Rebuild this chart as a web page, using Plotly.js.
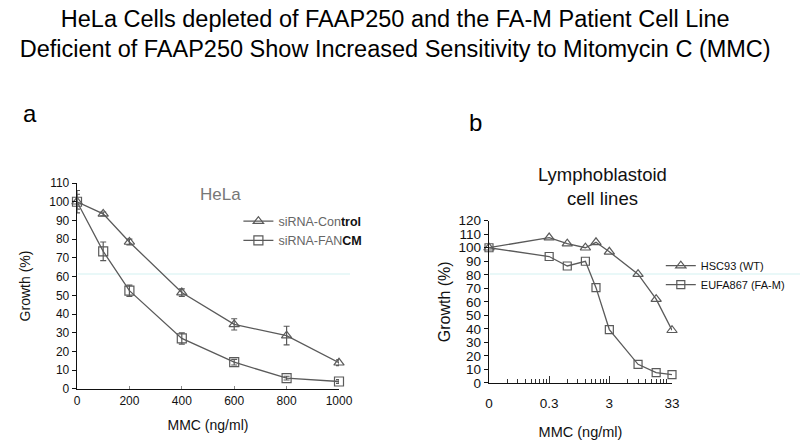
<!DOCTYPE html>
<html>
<head>
<meta charset="utf-8">
<script src="https://cdn.plot.ly/plotly-3.0.1.min.js"></script>
<style>html,body{margin:0;padding:0;background:#fff;}#chart{width:800px;height:447px;}</style>
</head>
<body>
<div id="chart"></div>
<script>
// ---- Panel a: HeLa ----
var helaDose = [0, 100, 200, 400, 600, 800, 1000];
var ctrlGrowth = [100, 93.5, 78.5, 51.5, 34.5, 28.5, 14];
var ctrlErr = [6, 1, 1.5, 2, 3, 5, 1.5];
var fancmGrowth = [100, 73.5, 52.5, 27, 14.3, 5.8, 4];
var fancmErr = [4, 5, 3, 3, 1.5, 1, 1];

// ---- Panel b: Lymphoblastoid ----
var lymphDose = [0, 0.3, 0.6, 1.2, 1.8, 3, 9, 18, 33];
var wtGrowth = [100, 107.5, 103, 100, 104, 97, 80.5, 62, 39];
var famGrowth = [100, 93.5, 86.5, 90, 70.5, 39.5, 13.8, 7.6, 6.2];
var lymphTickVals = [0.03, 0.3, 3, 33];
var lymphTickText = ["0", "0.3", "3", "33"];
var zeroDosePos = 0.03; // position where dose 0 is drawn on the log axis

var lymphX = lymphDose.map(function(d){ return d === 0 ? zeroDosePos : d; });
var minorVals = [];
[0.03, 0.3, 3].forEach(function(b){ for (var k = 2; k <= 9; k++) minorVals.push(b*k); });

var gray = '#5a5a5a';
var fontFam = 'Liberation Sans, Arial, sans-serif';

var traces = [
  {x: helaDose, y: ctrlGrowth, type: 'scatter', mode: 'lines+markers',
   name: 'siRNA-Con<span style="color:#111"><b>trol</b></span>',
   line: {color: gray, width: 1.3},
   marker: {symbol: 'triangle-up-open', size: 9, color: gray, line: {width: 1.2}},
   error_y: {type: 'data', array: ctrlErr, visible: true, color: gray, thickness: 1.2, width: 3},
   xaxis: 'x', yaxis: 'y', legend: 'legend', cliponaxis: false},
  {x: helaDose, y: fancmGrowth, type: 'scatter', mode: 'lines+markers',
   name: 'siRNA-FAN<span style="color:#111"><b>CM</b></span>',
   line: {color: gray, width: 1.3},
   marker: {symbol: 'square-open', size: 9, color: gray, line: {width: 1.2}},
   error_y: {type: 'data', array: fancmErr, visible: true, color: gray, thickness: 1.2, width: 3},
   xaxis: 'x', yaxis: 'y', legend: 'legend', cliponaxis: false},
  {x: lymphX, y: wtGrowth, type: 'scatter', mode: 'lines+markers',
   name: 'HSC93 (WT)',
   line: {color: gray, width: 1.3},
   marker: {symbol: 'triangle-up-open', size: 9, color: gray, line: {width: 1.2}},
   xaxis: 'x2', yaxis: 'y2', legend: 'legend2', cliponaxis: false},
  {x: lymphX, y: famGrowth, type: 'scatter', mode: 'lines+markers',
   name: 'EUFA867 (FA-M)',
   line: {color: gray, width: 1.3},
   marker: {symbol: 'square-open', size: 8, color: gray, line: {width: 1.2}},
   xaxis: 'x2', yaxis: 'y2', legend: 'legend2', cliponaxis: false}
];

var layout = {
  width: 800, height: 447,
  margin: {l: 0, r: 0, t: 0, b: 0},
  paper_bgcolor: '#fff', plot_bgcolor: 'rgba(0,0,0,0)',
  font: {family: fontFam, color: '#111'},
  title: {text: 'HeLa Cells depleted of FAAP250 and the FA-M Patient Cell Line<br>Deficient of FAAP250 Show Increased Sensitivity to Mitomycin C (MMC)',
          font: {size: 23.5, family: fontFam, color: '#000'}, x: 0.494, xanchor: 'center', y: 0.94, yanchor: 'top'},
  showlegend: true,
  xaxis: {domain: [0.09625, 0.42375], range: [0, 1000], anchor: 'y',
          tickvals: [0, 200, 400, 600, 800, 1000], showgrid: false, zeroline: false,
          showline: true, linecolor: '#111', linewidth: 1.3,
          ticks: 'inside', ticklen: 3, tickcolor: '#888', tickfont: {size: 12, color: '#111'},
          title: {text: 'MMC (ng/ml)', font: {size: 14, color: '#111'}, standoff: 13}},
  yaxis: {domain: [0.1298, 0.5906], range: [0, 110], anchor: 'x', dtick: 10,
          showgrid: false, zeroline: false, showline: true, linecolor: '#111', linewidth: 1.3,
          ticks: 'outside', ticklen: 4, tickcolor: '#111', tickfont: {size: 12, color: '#111'},
          title: {text: 'Growth (%)', font: {size: 14, color: '#111'}, standoff: 15}},
  xaxis2: {domain: [0.61125, 0.84], type: 'log', range: [Math.log10(0.03), Math.log10(33)], anchor: 'y2',
           tickmode: 'array', tickvals: lymphTickVals, ticktext: lymphTickText,
           showgrid: false, zeroline: false, showline: true, linecolor: '#111', linewidth: 1.3,
           ticks: 'inside', ticklen: 7, tickcolor: '#333', tickfont: {size: 13.5, color: '#111'},
           ticklabelstandoff: 8,
           minor: {tickmode: 'array', tickvals: minorVals, ticks: 'inside', ticklen: 4, tickcolor: '#333', showgrid: false},
           title: {text: 'MMC (ng/ml)', font: {size: 14.5, color: '#111'}, standoff: 16}},
  yaxis2: {domain: [0.1432, 0.5063], range: [0, 120], anchor: 'x2', dtick: 10,
           showgrid: false, zeroline: false, showline: true, linecolor: '#111', linewidth: 1.3,
           ticks: 'outside', ticklen: 4, tickcolor: '#111', tickfont: {size: 13.5, color: '#111'},
           title: {text: 'Growth (%)', font: {size: 16, color: '#111'}, standoff: 4}},
  legend: {x: 0.298, y: 0.538, xanchor: 'left', yanchor: 'top', bgcolor: 'rgba(0,0,0,0)',
           font: {size: 12.5, color: '#666'}, itemwidth: 30, tracegroupgap: 0},
  legend2: {x: 0.826, y: 0.438, xanchor: 'left', yanchor: 'top', bgcolor: 'rgba(0,0,0,0)',
           font: {size: 11, color: '#111'}, itemwidth: 30, tracegroupgap: 0},
  annotations: [
    {text: 'a', x: 30/800, y: 1 - 113/447, xref: 'paper', yref: 'paper', xanchor: 'center', yanchor: 'middle', showarrow: false, font: {size: 24, color: '#000'}},
    {text: 'b', x: 475/800, y: 1 - 123/447, xref: 'paper', yref: 'paper', xanchor: 'center', yanchor: 'middle', showarrow: false, font: {size: 24, color: '#000'}},
    {text: 'HeLa', x: 220/800, y: 1 - 195/447, xref: 'paper', yref: 'paper', xanchor: 'center', yanchor: 'middle', showarrow: false, font: {size: 17, color: '#777'}},
    {text: 'Lymphoblastoid<br>cell lines', x: 602/800, y: 1 - 186/447, xref: 'paper', yref: 'paper', xanchor: 'center', yanchor: 'middle', showarrow: false, font: {size: 18.5, color: '#111'}}
  ],
  shapes: [
    {type: 'line', xref: 'paper', yref: 'paper', x0: 78/800, x1: 350/800, y0: 1 - 274/447, y1: 1 - 274/447, line: {color: 'rgba(170,230,230,0.5)', width: 1}, layer: 'below'},
    {type: 'line', xref: 'paper', yref: 'paper', x0: 490/800, x1: 1, y0: 1 - 274/447, y1: 1 - 274/447, line: {color: 'rgba(170,230,230,0.5)', width: 1}, layer: 'below'}
  ]
};

Plotly.newPlot('chart', traces, layout, {displayModeBar: false, staticPlot: true});
</script>
</body>
</html>
